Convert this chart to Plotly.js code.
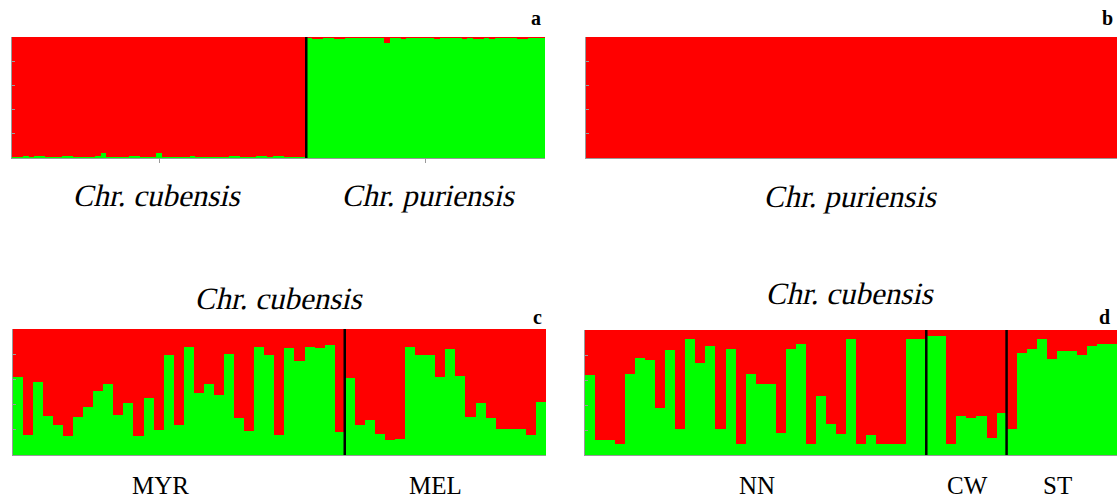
<!DOCTYPE html>
<html>
<head>
<meta charset="utf-8">
<script src="https://cdn.plot.ly/plotly-3.0.1.min.js"></script>
<style>html,body{margin:0;padding:0;background:#fff;}#chart{width:1117px;height:504px;}</style>
</head>
<body>
<div id="chart"></div>
<script>
// Panel a: Chr. cubensis (green share, tiny) and Chr. puriensis (red share, tiny)
const aCubensisGreen = [0.01,0.01,0.02,0.01,0.02,0.02,0.01,0.01,0.01,0.02,0.02,0.01,0.01,0.01,0.01,0.02,0.04,0.01,0.01,0.01,0.01,0.02,0.02,0.01,0.01,0.01,0.04,0.01,0.01,0.01,0.01,0.01,0.02,0.01,0.01,0.01,0.01,0.01,0.01,0.02,0.02,0.01,0.01,0.01,0.02,0.02,0.01,0.02,0.02,0.01,0.01,0.01,0.01];
const aPuriensisRed = [0.01,0.02,0.02,0.01,0.01,0.02,0.02,0.01,0.01,0.01,0.01,0.01,0.01,0.01,0.05,0.01,0.01,0.02,0.01,0.01,0.01,0.01,0.01,0.02,0.01,0.01,0.01,0.01,0.02,0.01,0.02,0.02,0.01,0.02,0.01,0.01,0.01,0.01,0.02,0.02,0.01,0.01,0.01];
// Panel b: Chr. puriensis (red share)
const bPuriensisRed = [1,1,1,1,1,1,1,1,1,1,1,1,1,1,1,1,1,1,1,1,1,1,1,1,1,1,1,1,1,1,1,1,1,1,1,1,1,1,1,1,1,1,1];
// Panel c: Chr. cubensis, green share per individual
const cMYR = [0.62,0.16,0.58,0.31,0.24,0.15,0.30,0.38,0.51,0.56,0.32,0.41,0.15,0.45,0.20,0.79,0.24,0.86,0.49,0.56,0.48,0.80,0.29,0.19,0.86,0.79,0.16,0.85,0.75,0.86,0.85,0.87,0.18];
const cMEL = [0.61,0.24,0.28,0.17,0.12,0.13,0.86,0.79,0.79,0.62,0.84,0.63,0.30,0.41,0.29,0.21,0.21,0.21,0.16,0.42];
// Panel d: Chr. cubensis, green share per individual
const dNN = [0.64,0.12,0.12,0.09,0.65,0.78,0.76,0.38,0.84,0.21,0.93,0.74,0.87,0.21,0.85,0.09,0.65,0.57,0.57,0.18,0.85,0.89,0.09,0.47,0.25,0.17,0.93,0.09,0.16,0.09,0.09,0.09,0.93,0.93];
const dCW = [0.95,0.95,0.09,0.31,0.30,0.31,0.14,0.34];
const dST = [0.21,0.82,0.85,0.93,0.77,0.83,0.83,0.80,0.87,0.89,0.89];

const GREEN = '#00ff00', RED = '#ff0000';
const idx = n => Array.from({length:n}, (_, i) => i);

function stack(green, xa, ya) {
  const x = idx(green.length);
  return [
    {type:'bar', x, y:green, xaxis:xa, yaxis:ya, marker:{color:GREEN, line:{width:0}}, hoverinfo:'skip', showlegend:false},
    {type:'bar', x, y:green.map(v => 1 - v), xaxis:xa, yaxis:ya, marker:{color:RED, line:{width:0}}, hoverinfo:'skip', showlegend:false}
  ];
}

const aGreen = aCubensisGreen.concat(aPuriensisRed.map(v => 1 - v));
const bGreen = bPuriensisRed.map(v => 1 - v);
const cGreen = cMYR.concat(cMEL);
const dGreen = dNN.concat(dCW, dST);

const data = [].concat(
  stack(aGreen, 'x', 'y'),
  stack(bGreen, 'x2', 'y2'),
  stack(cGreen, 'x3', 'y3'),
  stack(dGreen, 'x4', 'y4')
);

const W = 1117, H = 504;
const px = v => v / W, py = v => 1 - v / H;

function xax(n, l, r, extra) {
  return Object.assign({domain:[px(l), Math.min(1, px(r))], range:[-0.5, n - 0.5], showgrid:false, zeroline:false,
    showticklabels:false, showline:true, linecolor:'#9a9a9a', linewidth:1, ticks:'', fixedrange:true}, extra || {});
}
function yax(t, b, anchor) {
  return {domain:[py(b), py(t)], range:[0, 1], showgrid:false, zeroline:false, showticklabels:false, showline:true,
    linecolor:'#9a9a9a', linewidth:1, ticks:'inside', ticklen:3, tickcolor:'#9a9a9a', tickvals:[0.2,0.4,0.6,0.8], anchor:anchor, fixedrange:true};
}

const nA = aGreen.length;
const layout = {
  width: W, height: H,
  margin: {l:0, r:0, t:0, b:0},
  paper_bgcolor: '#fff', plot_bgcolor: '#fff',
  barmode: 'stack', bargap: 0,
  showlegend: false,
  xaxis: xax(nA, 12, 545, {ticks:'outside', ticklen:4, tickcolor:'#9a9a9a', tickvals:[(aCubensisGreen.length - 1) / 2, aCubensisGreen.length + (aPuriensisRed.length - 1) / 2], anchor:'y'}),
  yaxis: yax(37, 158, 'x'),
  xaxis2: xax(bGreen.length, 586, 1117, {anchor:'y2'}),
  yaxis2: yax(37, 158, 'x2'),
  xaxis3: xax(cGreen.length, 12.7, 546, {anchor:'y3'}),
  yaxis3: yax(329, 455, 'x3'),
  xaxis4: xax(dGreen.length, 585, 1117, {anchor:'y4'}),
  yaxis4: yax(330, 455, 'x4'),
  shapes: [
    {type:'line', xref:'x', yref:'y', x0:aCubensisGreen.length - 0.5, x1:aCubensisGreen.length - 0.5, y0:-0.03, y1:1.03, line:{color:'#000', width:2.5}},
    {type:'line', xref:'x3', yref:'y3', x0:cMYR.length - 0.5, x1:cMYR.length - 0.5, y0:-0.03, y1:1.03, line:{color:'#000', width:2.5}},
    {type:'line', xref:'x4', yref:'y4', x0:dNN.length - 0.5, x1:dNN.length - 0.5, y0:-0.03, y1:1.03, line:{color:'#000', width:2.5}},
    {type:'line', xref:'x4', yref:'y4', x0:dNN.length + dCW.length - 0.5, x1:dNN.length + dCW.length - 0.5, y0:-0.03, y1:1.03, line:{color:'#000', width:2.5}}
  ],
  annotations: []
};

const serif = "'Liberation Serif', 'Times New Roman', serif";
function ann(text, x, y, size) {
  layout.annotations.push({text, x:px(x), y:py(y), xref:'paper', yref:'paper', showarrow:false, xanchor:'center', yanchor:'middle',
    font:{family:serif, size:size, color:'#000'}});
}
ann('Chr. cubensis', 158, 196, 31);
ann('Chr. puriensis', 430, 196, 31);
ann('Chr. puriensis', 852, 197, 31);
ann('Chr. cubensis', 280, 298, 31);
ann('Chr. cubensis', 851, 293, 31);
ann('MYR', 160, 485, 25);
ann('MEL', 435, 485, 25);
ann('NN', 757, 485, 25);
ann('CW', 967, 485, 25);
ann('ST', 1057, 485, 25);
ann('<b>a</b>', 536, 18, 20);
ann('<b>b</b>', 1107, 18, 20);
ann('<b>c</b>', 537, 317, 20);
ann('<b>d</b>', 1104, 317, 20);

function slantSpeciesNames() {
  document.querySelectorAll('#chart text.annotation-text').forEach(t => {
    if (t.textContent.indexOf('Chr.') === 0) {
      t.style.transformBox = 'fill-box';
      t.style.transformOrigin = 'center';
      t.style.transform = 'skewX(-13deg)';
    }
  });
}

Plotly.newPlot('chart', data, layout, {displayModeBar:false, staticPlot:true}).then(slantSpeciesNames);
</script>
</body>
</html>
